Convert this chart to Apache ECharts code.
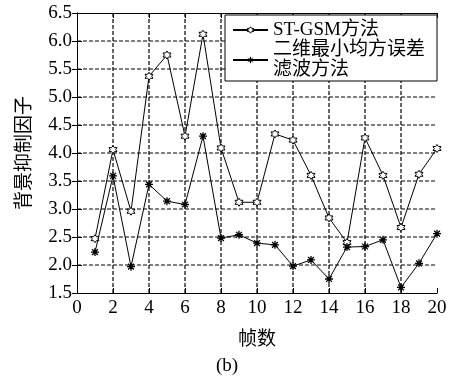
<!DOCTYPE html>
<html><head><meta charset="utf-8">
<script src="https://cdn.jsdelivr.net/npm/echarts@6/dist/echarts.min.js"></script>
<style>html,body{margin:0;padding:0;background:#fff}#c{width:454px;height:376px}</style>
</head><body><div id="c"></div>
<script>
const frames = [1,2,3,4,5,6,7,8,9,10,11,12,13,14,15,16,17,18,19,20];
const stgsm = [2.47,4.06,2.96,5.37,5.75,4.30,6.12,4.09,3.12,3.12,4.34,4.23,3.60,2.84,2.40,4.27,3.60,2.67,3.62,4.08];
const lms2d = [2.23,3.59,1.97,3.44,3.14,3.08,4.30,2.48,2.54,2.39,2.36,1.98,2.09,1.75,2.32,2.33,2.45,1.60,2.03,2.56];
const xGridTicks = [2,4,6,8,10,12,14,16,18];
const yGridTicks = [2.0,2.5,3.0,3.5,4.0,4.5,5.0,5.5,6.0];
const xRange = [0,20], yRange = [1.5,6.5];
const seriesNames = ['ST-GSM方法','二维最小均方误差滤波方法'];
const xTitle = '帧数', yTitle = '背景抑制因子', caption = '(b)';

const FONT = '"Liberation Serif","Noto Sans CJK SC",serif';
const starPath = 'path://M0,-5 L1.5,-2.5 L4.3,-2.5 L2.9,0 L4.3,2.5 L1.5,2.5 L0,5 L-1.5,2.5 L-4.3,2.5 L-2.9,0 L-4.3,-2.5 L-1.5,-2.5 Z';
const asteriskPath = 'path://M0,-5 L0,5 M-5,0 L5,0 M-3.6,-3.6 L3.6,3.6 M-3.6,3.6 L3.6,-3.6';

const tickAxis = (pos) => ({
  position:pos,
  axisLine:{show:true,lineStyle:{color:'#000',width:1}},
  axisTick:{show:true,inside:true,length:5,lineStyle:{color:'#000'}},
  axisLabel:{show:false}, splitLine:{show:false}
});
const gridSeries = (name, data) => ({
  name, type:'line', data, symbol:'none', silent:true, z:2,
  lineStyle:{color:'#000', width:1.2, type:[4,2]}, tooltip:{show:false}
});

const chart = echarts.init(document.getElementById('c'), null, {renderer:'canvas'});
chart.setOption({
  animation:false,
  backgroundColor:'#fff',
  grid:{left:77, top:13, right:17, bottom:83, containLabel:false},
  xAxis:[{
    type:'value', min:xRange[0], max:xRange[1], interval:2,
    axisLine:{show:true,onZero:false,lineStyle:{color:'#000',width:1}},
    axisTick:{show:true,inside:true,length:5,lineStyle:{color:'#000'}},
    axisLabel:{color:'#000',fontFamily:FONT,fontSize:19,margin:6},
    splitLine:{show:false},
    name:xTitle, nameLocation:'middle', nameGap:38,
    nameTextStyle:{color:'#000',fontFamily:FONT,fontSize:19}
  }, Object.assign({type:'value', min:xRange[0], max:xRange[1], interval:2}, tickAxis('top'))],
  yAxis:[{
    type:'value', min:yRange[0], max:yRange[1], interval:0.5,
    axisLine:{show:true,onZero:false,lineStyle:{color:'#000',width:1}},
    axisTick:{show:true,inside:true,length:5,lineStyle:{color:'#000'}},
    axisLabel:{color:'#000',fontFamily:FONT,fontSize:19,margin:5,formatter:v=>v.toFixed(1)},
    splitLine:{show:false},
    name:yTitle, nameLocation:'middle', nameGap:42, nameRotate:90,
    nameTextStyle:{color:'#000',fontFamily:FONT,fontSize:19}
  }, Object.assign({type:'value', min:yRange[0], max:yRange[1], interval:0.5}, tickAxis('right'))],
  legend:{
    orient:'vertical', left:225, top:15,
    backgroundColor:'#fff', borderColor:'#000', borderWidth:1,
    padding:[5,12,1,7], itemGap:0, itemWidth:35, itemHeight:8,
    textStyle:{color:'#000',fontFamily:FONT,fontSize:19,lineHeight:20},
    data:[
      {name:seriesNames[0], itemStyle:{color:'#fff',borderColor:'#000',borderWidth:1}},
      {name:seriesNames[1], itemStyle:{color:'transparent',borderColor:'#000',borderWidth:1}}
    ],
    formatter:n=> n===seriesNames[1] ? '二维最小均方误差\n滤波方法' : n
  },
  graphic:[{type:'text', left:'center', top:357, style:{text:caption, fill:'#000', font:'19px '+FONT}}],
  series:[
    ...yGridTicks.map(v=>gridSeries('gy'+v, [[xRange[0],v],[xRange[1],v]])),
    ...xGridTicks.map(v=>gridSeries('gx'+v, [[v,yRange[0]],[v,yRange[1]]])),
  {
    name:seriesNames[0], type:'line', data:frames.map((f,i)=>[f,stgsm[i]]),
    symbol:starPath, symbolSize:8, showAllSymbol:true, z:3,
    lineStyle:{color:'#000',width:1}, itemStyle:{color:'#fff',borderColor:'#000',borderWidth:1}
  },{
    name:seriesNames[1], type:'line', data:frames.map((f,i)=>[f,lms2d[i]]),
    symbol:asteriskPath, symbolSize:8, showAllSymbol:true, z:3,
    lineStyle:{color:'#000',width:1}, itemStyle:{color:'transparent',borderColor:'#000',borderWidth:1.3}
  }]
});
</script></body></html>
